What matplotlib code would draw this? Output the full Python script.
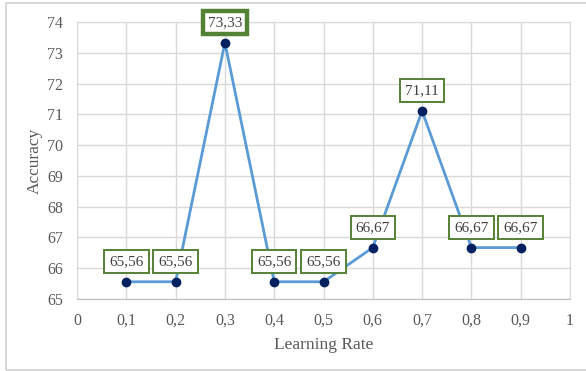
import matplotlib.pyplot as plt
from matplotlib.patches import Rectangle

learning_rate = [0.1, 0.2, 0.3, 0.4, 0.5, 0.6, 0.7, 0.8, 0.9]
accuracy = [65.56, 65.56, 73.33, 65.56, 65.56, 66.67, 71.11, 66.67, 66.67]
x_ticks = [0, 0.1, 0.2, 0.3, 0.4, 0.5, 0.6, 0.7, 0.8, 0.9, 1]
x_tick_labels = ["0", "0,1", "0,2", "0,3", "0,4", "0,5", "0,6", "0,7", "0,8", "0,9", "1"]
y_ticks = [65, 66, 67, 68, 69, 70, 71, 72, 73, 74]

plt.rcParams["font.family"] = ["Liberation Serif", "DejaVu Serif"]
text_color = "#595959"
grid_color = "#D9D9D9"
box_green = "#548235"

fig = plt.figure(figsize=(5.86, 3.71), dpi=100)
ax = fig.add_axes([77 / 586, 1 - 299 / 371, (570 - 77) / 586, (299 - 22) / 371])

# outer chart frame
fig.patches.append(Rectangle((6 / 586, 1.5 / 371), 1.0, 366.5 / 371, transform=fig.transFigure,
                             fill=False, edgecolor="#D0D0D0", linewidth=1.2))

ax.plot(learning_rate, accuracy, color="#5B9BD5", linewidth=2, marker="o",
        markersize=6, markerfacecolor="#002060", markeredgecolor="#002060", zorder=3)

for x, y in zip(learning_rate, accuracy):
    peak = y == max(accuracy)
    ax.annotate(f"{y:.2f}".replace(".", ","), (x, y), xytext=(0, 20),
                textcoords="offset pixels", ha="center", va="center",
                fontsize=11, color="#404040", zorder=4,
                bbox=dict(boxstyle="square,pad=0.33", facecolor="white",
                          edgecolor=box_green, linewidth=3.2 if peak else 1.4))

ax.set_xlim(0, 1)
ax.set_ylim(65, 74)
ax.set_xticks(x_ticks)
ax.set_xticklabels(x_tick_labels)
ax.set_yticks(y_ticks)
ax.tick_params(length=0, labelsize=11.5, labelcolor=text_color, pad=10)
ax.grid(True, color=grid_color, linewidth=1)
for side, spine in ax.spines.items():
    spine.set_color(grid_color if side != "bottom" else "#BFBFBF")
ax.set_axisbelow(True)

ax.set_xlabel("Learning Rate", fontsize=12.5, color=text_color, labelpad=6)
ax.set_ylabel("Accuracy", fontsize=12.5, color=text_color, labelpad=3)

fig.savefig("out.png", dpi=100)
